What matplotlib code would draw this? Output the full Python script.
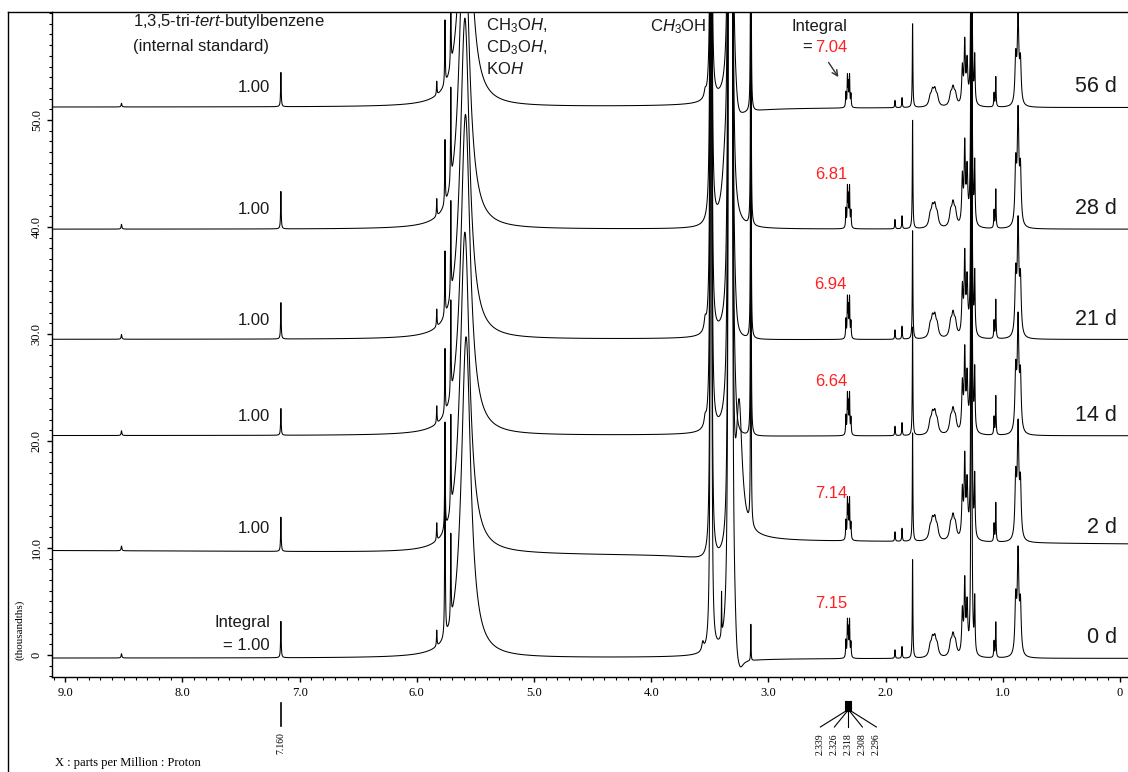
import numpy as np
import matplotlib
matplotlib.use('Agg')
import matplotlib.pyplot as plt
from matplotlib import transforms
from matplotlib.lines import Line2D
from matplotlib.ticker import MultipleLocator, FixedLocator, FixedFormatter

plt.rcParams['font.family'] = 'Liberation Sans'
plt.rcParams['mathtext.fontset'] = 'custom'
plt.rcParams['mathtext.rm'] = 'Liberation Sans'
plt.rcParams['mathtext.it'] = 'Liberation Sans:italic'
plt.rcParams['mathtext.default'] = 'regular'
plt.rcParams['path.simplify'] = False

# stacked spectra, bottom to top
days = ['0 d', '2 d', '14 d', '21 d', '28 d', '56 d']
baseline = [-0.3, 10.0, 20.5, 29.5, 39.8, 51.2]
scale = [1.0, 1.1, 1.1, 1.1, 1.1, 0.85]
integral = ['7.15', '7.14', '6.64', '6.94', '6.81', '7.04']
ttbb_height = [3.4, 3.2, 2.5, 3.4, 3.5, 3.2]
water_ppm = [5.58, 5.59, 5.585, 5.59, 5.595, 5.585]
peak576_height = [17.5, 10, 6, 6, 6, 6]
peak315_height = [3.4, 60, 60, 60, 60, 60]

# peaks shared by all spectra (ppm, height, half width)
peak_ppm = [8.52, 5.83, 5.71, 3.49, 3.335, 3.315,
            2.339, 2.326, 2.318, 2.308, 2.296, 1.92, 1.86, 1.77,
            1.62, 1.60, 1.58, 1.56, 1.445, 1.425, 1.405,
            1.345, 1.325, 1.305, 1.268, 1.24, 1.075, 1.06, 0.89, 0.87, 0.85]
peak_h = [0.4, 1.5, 8, 1000, 4000, 4000,
          1.6, 3.3, 2.4, 3.4, 1.4, 0.8, 1.1, 9.2,
          0.9, 1.4, 1.5, 0.9, 1.1, 1.7, 1.1,
          4.0, 6.5, 4.5, 80, 5.0, 1.5, 3.3, 5.0, 9.2, 4.5]
peak_w = [0.004, 0.003, 0.003, 0.0015, 0.001, 0.001,
          0.003, 0.003, 0.003, 0.003, 0.003, 0.003, 0.003, 0.003,
          0.013, 0.013, 0.013, 0.013, 0.013, 0.013, 0.013,
          0.007, 0.006, 0.007, 0.003, 0.004, 0.003, 0.003, 0.008, 0.008, 0.008]

# phase / baseline distortions near the methanol signal
extra_spec = [0, 0, 0, 0, 1, 1, 1, 1, 2, 2, 3, 3, 4, 5, 5]
extra_kind = ['D', 'L', 'L', 'L', 'D', 'D', 'L', 'L', 'D', 'L', 'D', 'L', 'L', 'D', 'L']
extra_ppm = [3.28, 3.24, 3.40, 3.56, 3.30, 3.36, 3.33, 3.25, 3.28, 3.54, 3.28, 3.54, 3.37, 3.28, 3.54]
extra_h = [3.0, -0.8, 4.0, 0.8, -0.8, -2.4, -5.0, 12.0, 2.0, 0.8, 1.5, 1.0, 4.2, 3.0, 0.6]
extra_w = [0.02, 0.03, 0.002, 0.01, 1.5, 0.12, 0.04, 0.03, 0.02, 0.01, 0.02, 0.01, 0.03, 0.03, 0.01]

cluster_ppm = [2.339, 2.326, 2.318, 2.308, 2.296]
cluster_lbl = ['2.339', '2.326', '2.318', '2.308', '2.296']


def lorentz(x, x0, h, w):
    return h * w**2 / ((x - x0)**2 + w**2)


def disp(x, x0, a, w):
    return a * w * (x - x0) / ((x - x0)**2 + w**2)


W, H = 1128, 772
def fy(py):
    return 1 - py / H

fig = plt.figure(figsize=(W / 100, H / 100), dpi=100)
ax = fig.add_axes([52 / W, fy(677), 1 - 52 / W, (677 - 12) / H])
ax.set_xlim(9.113, -0.068)
ax.set_ylim(-2.06, 60.1)

x = np.linspace(9.113, -0.068, 100000)
for i in range(len(days)):
    y = np.full_like(x, baseline[i])
    for p, h, w in zip(peak_ppm, peak_h, peak_w):
        y += scale[i] * lorentz(x, p, h, w)
    y += lorentz(x, 7.16, ttbb_height[i], 0.003)
    y += lorentz(x, water_ppm[i], 30, 0.048)
    y += lorentz(x, 5.76, peak576_height[i], 0.003)
    y += lorentz(x, 3.15, peak315_height[i], 0.002)
    for s, k, p, h, w in zip(extra_spec, extra_kind, extra_ppm, extra_h, extra_w):
        if s != i:
            continue
        if k == 'L':
            y += lorentz(x, p, h, w)
        else:
            y += disp(x, p, h, w)
    y = np.clip(y, -3, 62)
    ax.plot(x, y, color='black', lw=0.75)

# axes styling
ax.spines['right'].set_visible(False)
for s in ['left', 'bottom', 'top']:
    ax.spines[s].set_linewidth(1.0)
ax.xaxis.set_major_locator(FixedLocator(np.arange(0, 10)))
ax.xaxis.set_major_formatter(FixedFormatter(['0', '1.0', '2.0', '3.0', '4.0', '5.0', '6.0', '7.0', '8.0', '9.0']))
ax.xaxis.set_minor_locator(MultipleLocator(0.1))
ax.yaxis.set_major_locator(FixedLocator([0, 10, 20, 30, 40, 50]))
ax.yaxis.set_major_formatter(FixedFormatter(['0', '10.0', '20.0', '30.0', '40.0', '50.0']))
ax.yaxis.set_minor_locator(MultipleLocator(1))
ax.tick_params(which='major', direction='out', length=3.6, width=1.0, labelsize=9, pad=3.5)
ax.tick_params(which='minor', direction='out', length=2.2, width=0.8)
ax.tick_params(axis='y', labelrotation=90, pad=3)
ax.tick_params(top=False, right=False)
for lbl in ax.get_xticklabels() + ax.get_yticklabels():
    lbl.set_family('Liberation Serif')
for lbl in ax.get_yticklabels():
    lbl.set_va('center')

# outer frame
fig.add_artist(Line2D([8 / W, 8 / W], [0, fy(12)], transform=fig.transFigure, color='black', lw=1.0))
fig.add_artist(Line2D([8 / W, 52 / W], [fy(12), fy(12)], transform=fig.transFigure, color='black', lw=1.0))

tc = '#1a1a1a'
fs = 12
ax.text(8.42, 59.2, '1,3,5-tri-$\\it{tert}$-butylbenzene', fontsize=fs, color=tc, va='center')
ax.text(8.42, 56.9, '(internal standard)', fontsize=fs, color=tc, va='center')
ax.text(5.41, 58.8, 'CH$_3$O$\\it{H}$,', fontsize=fs, color=tc, va='center')
ax.text(5.41, 56.8, 'CD$_3$O$\\it{H}$,', fontsize=fs, color=tc, va='center')
ax.text(5.41, 54.8, 'KO$\\it{H}$', fontsize=fs, color=tc, va='center')
ax.text(4.01, 58.7, 'C$\\it{H}_3$OH', fontsize=fs, color=tc, va='center')

for i in range(len(days)):
    b = baseline[i]
    ax.text(0.026, b + 1.9, days[i], fontsize=15.5, color=tc, ha='right', va='center')
    if i == 0:
        ax.text(7.253, b + 3.3, 'Integral', fontsize=fs, color=tc, ha='right', va='center')
        ax.text(7.253, b + 1.2, '= 1.00', fontsize=fs, color=tc, ha='right', va='center')
    else:
        ax.text(7.253, b + 1.8, '1.00', fontsize=fs, color=tc, ha='right', va='center')
    if i == len(days) - 1:
        ax.text(2.33, b + 7.5, 'Integral', fontsize=fs, color=tc, ha='right', va='center')
        ax.text(2.33, b + 5.6, integral[i], fontsize=fs, color='#ff2020', ha='right', va='center')
        ax.text(2.628, b + 5.6, '=', fontsize=fs, color=tc, ha='right', va='center')
        ax.annotate('', xy=(2.39, 53.8), xytext=(2.50, 55.6),
                    arrowprops=dict(arrowstyle='->', color='#333333', lw=1.0))
    else:
        ax.text(2.33, b + 5.1, integral[i], fontsize=fs, color='#ff2020', ha='right', va='center')

# peak picking labels below the axis
tr = transforms.blended_transform_factory(ax.transData, fig.transFigure)
ax.add_line(Line2D([7.16, 7.16], [fy(703), fy(726)], transform=tr, color='black', lw=1.2, clip_on=False))
ax.text(7.16, fy(743), '7.160', transform=tr, rotation=90, ha='center', va='center',
        fontsize=7, family='Liberation Serif', clip_on=False)
for k, (p, s) in enumerate(zip(cluster_ppm, cluster_lbl)):
    lx = cluster_ppm[2] - (k - 2) * 14 / 117.2
    ax.add_line(Line2D([p, p], [fy(702), fy(711)], transform=tr, color='black', lw=1.5, clip_on=False))
    ax.add_line(Line2D([p, lx], [fy(711), fy(727)], transform=tr, color='black', lw=0.8, clip_on=False))
    ax.text(lx, fy(744), s, transform=tr, rotation=90, ha='center', va='center',
            fontsize=7, family='Liberation Serif', clip_on=False)

fig.text(55 / W, fy(763), 'X : parts per Million : Proton', family='Liberation Serif', fontsize=9, va='center')
fig.text(20 / W, fy(630), '(thousandths)', family='Liberation Serif', fontsize=8, rotation=90,
         ha='center', va='center')

fig.savefig('out.png', dpi=100)
